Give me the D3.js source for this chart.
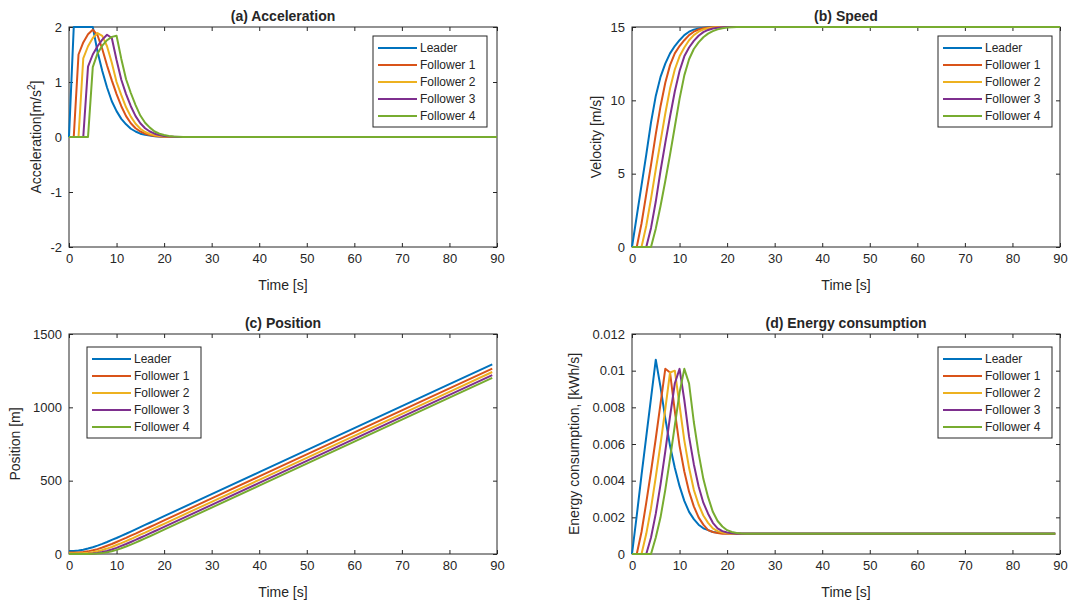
<!DOCTYPE html>
<html>
<head>
<meta charset="utf-8">
<script src="https://d3js.org/d3.v7.min.js"></script>
<style>
body { margin: 0; background: #fff; }
text { font-family: "Liberation Sans", Arial, sans-serif; fill: #262626; }
.tick text { font-size: 13px; }
.tick line { stroke: #262626; }
.domain { stroke: none; }
</style>
</head>
<body>
<div id="chart"></div>
<script>
// series names and colours (MATLAB default order)
var seriesNames = ["Leader", "Follower 1", "Follower 2", "Follower 3", "Follower 4"];
var colors = ["#0072BD", "#D95319", "#EDB120", "#7E2F8E", "#77AC30"];

// time stamps: one per second during the transient, then the end of the run
var timeAcc = [0,1,2,3,4,5,6,7,8,9,10,11,12,13,14,15,16,17,18,19,20,21,22,23,24,25,90];
var timeEnergy = [0,1,2,3,4,5,6,7,8,9,10,11,12,13,14,15,16,17,18,19,20,21,22,23,24,25,89];
var timePos = [0,1,2,3,4,5,6,7,8,9,10,11,12,13,14,15,16,17,18,19,20,30,40,50,60,70,80,89];

// (a) acceleration [m/s^2]
var accLeader = [0,2,2,2,2,2,1.55,1.2,0.9,0.65,0.47,0.33,0.23,0.15,0.1,0.06,0.04,0.025,0.015,0.01,0.005,0,0,0,0,0,0];
var accF1 = [0,0,1.5,1.72,1.87,1.95,1.85,1.6,1.3,1.03,0.78,0.56,0.38,0.25,0.16,0.1,0.06,0.035,0.02,0.01,0.005,0,0,0,0,0,0];
var accF2 = [0,0,0,1.43,1.65,1.8,1.89,1.84,1.65,1.35,1.0,0.76,0.54,0.37,0.24,0.15,0.09,0.055,0.03,0.018,0.01,0.005,0,0,0,0,0];
var accF3 = [0,0,0,0,1.28,1.5,1.65,1.77,1.86,1.8,1.4,1.04,0.78,0.56,0.38,0.25,0.16,0.1,0.06,0.035,0.02,0.01,0.005,0,0,0,0];
var accF4 = [0,0,0,0,0,1.27,1.52,1.66,1.76,1.82,1.84,1.42,1.05,0.8,0.58,0.39,0.26,0.17,0.1,0.06,0.035,0.02,0.01,0.005,0,0,0];

// (b) speed [m/s]
var speedLeader = [0,2.1,4.2,6.3,8.5,10.3,11.6,12.5,13.2,13.7,14.1,14.45,14.68,14.82,14.9,14.95,14.98,15,15,15,15,15,15,15,15,15,15];
var speedF1 = [0,0,1.6,3.6,5.6,7.7,9.6,11.2,12.4,13.2,13.7,14.1,14.45,14.68,14.83,14.92,14.96,14.98,15,15,15,15,15,15,15,15,15];
var speedF2 = [0,0,0,1.45,3.3,5.3,7.2,9.1,10.8,12.1,13.0,13.6,14.1,14.45,14.68,14.83,14.92,14.96,14.98,15,15,15,15,15,15,15,15];
var speedF3 = [0,0,0,0,1.3,3.1,5.2,7.1,8.9,10.6,12.0,13.0,13.6,14.05,14.4,14.65,14.8,14.9,14.95,14.98,15,15,15,15,15,15,15];
var speedF4 = [0,0,0,0,0,1.25,2.8,4.5,6.3,8.2,10.1,11.7,12.8,13.5,13.95,14.3,14.55,14.72,14.84,14.92,14.96,14.98,15,15,15,15,15];

// (c) position [m]
var posLeader = [20,21,24,29,37,46,57,69,82,96,109,124,138,153,168,183,198,213,228,243,258,408,558,708,858,1008,1158,1293];
var posF1 = [10,10,11,13,18,25,33,44,56,68,82,96,110,125,139,154,169,184,199,214,229,379,529,679,829,979,1129,1264];
var posF2 = [5,5,5,6,8,12,19,27,37,48,61,74,88,102,117,132,146,161,176,191,206,356,506,656,806,956,1106,1241];
var posF3 = [0,0,0,0,1,3,7,13,21,31,42,55,68,82,96,111,125,140,155,170,185,335,485,635,785,935,1085,1220];
var posF4 = [0,0,0,0,0,1,3,6,12,19,28,39,51,64,78,92,107,121,136,151,166,316,466,616,766,916,1066,1201];

// (d) energy consumption [kWh/s]
var enLeader = [0,0.0021,0.0043,0.0064,0.0085,0.0106,0.0091,0.0074,0.0059,0.0047,0.0037,0.0029,0.0023,0.0019,0.0016,0.0014,0.0013,0.0012,0.00117,0.00115,0.00113,0.00112,0.00112,0.00112,0.00112,0.00112,0.00112];
var enF1 = [0,0,0.0012,0.0028,0.0045,0.0063,0.0082,0.0101,0.0099,0.0078,0.0059,0.0045,0.0034,0.0026,0.002,0.0016,0.0013,0.0012,0.00114,0.00111,0.0011,0.0011,0.0011,0.0011,0.0011,0.0011,0.0011];
var enF2 = [0,0,0,0.0011,0.0025,0.0042,0.006,0.0079,0.0099,0.01,0.0081,0.0062,0.0047,0.0035,0.0027,0.0021,0.0017,0.0014,0.00125,0.00117,0.00113,0.0011,0.0011,0.0011,0.0011,0.0011,0.0011];
var enF3 = [0,0,0,0,0.0009,0.0022,0.0038,0.0056,0.0075,0.0093,0.0101,0.0084,0.0064,0.0049,0.0037,0.0028,0.0022,0.0017,0.0014,0.00125,0.00117,0.00113,0.0011,0.0011,0.0011,0.0011,0.0011];
var enF4 = [0,0,0,0,0,0.0009,0.002,0.0035,0.0052,0.007,0.0088,0.0101,0.0093,0.0072,0.0055,0.0041,0.0031,0.0023,0.0018,0.0015,0.0013,0.0012,0.00115,0.00112,0.0011,0.0011,0.0011];

// tick values
var xTicks = [0,10,20,30,40,50,60,70,80,90];
var accTicks = [-2,-1,0,1,2];
var speedTicks = [0,5,10,15];
var posTicks = [0,500,1000,1500];
var energyTicks = [0,0.002,0.004,0.006,0.008,0.01,0.012];

var svg = d3.select("#chart")
  .append("svg")
    .attr("width", 1074)
    .attr("height", 604);

// plain hyphen minus, like matlab
var plainFmt = function(d) { return String(+d.toFixed(4)); };

function drawPanel(p) {
  var g = svg.append("g")
    .attr("transform", "translate(" + p.left + "," + p.top + ")");

  var x = d3.scaleLinear().domain([0, 90]).range([0, p.w]);
  var y = d3.scaleLinear().domain(p.yDomain).range([p.h, 0]);

  // box
  g.append("rect")
    .attr("width", p.w)
    .attr("height", p.h)
    .attr("fill", "none")
    .attr("stroke", "#262626")
    .attr("stroke-width", 1);

  // axes, ticks pointing inward
  g.append("g")
    .attr("transform", "translate(0," + p.h + ")")
    .call(d3.axisBottom(x).tickValues(xTicks).tickSize(-4).tickSizeOuter(0).tickPadding(7).tickFormat(plainFmt));
  g.append("g")
    .call(d3.axisTop(x).tickValues(xTicks).tickSize(-4).tickSizeOuter(0).tickFormat(""));
  g.append("g")
    .call(d3.axisLeft(y).tickValues(p.yTicks).tickSize(-4).tickSizeOuter(0).tickPadding(7).tickFormat(plainFmt));
  g.append("g")
    .attr("transform", "translate(" + p.w + ",0)")
    .call(d3.axisRight(y).tickValues(p.yTicks).tickSize(-4).tickSizeOuter(0).tickFormat(""));

  var line = d3.line()
    .x(function(d) { return x(d[0]); })
    .y(function(d) { return y(d[1]); });

  p.series.forEach(function(vals, i) {
    g.append("path")
      .datum(p.times.map(function(t, k) { return [t, vals[k]]; }))
      .attr("fill", "none")
      .attr("stroke", colors[i])
      .attr("stroke-width", 2)
      .attr("stroke-linejoin", "round")
      .attr("d", line);
  });

  // title
  g.append("text")
    .attr("x", p.w / 2)
    .attr("y", -6)
    .attr("text-anchor", "middle")
    .style("font-size", "14px")
    .style("font-weight", "bold")
    .text(p.title);

  // x label
  g.append("text")
    .attr("x", p.w / 2)
    .attr("y", p.h + 43)
    .attr("text-anchor", "middle")
    .style("font-size", "14px")
    .text("Time [s]");

  // y label
  var yl = g.append("text")
    .attr("transform", "translate(" + p.ylabelX + "," + (p.h / 2) + ") rotate(-90)")
    .attr("text-anchor", "middle")
    .style("font-size", "14px");
  if (p.ylabelSup) {
    yl.append("tspan").text(p.ylabel);
    yl.append("tspan").attr("dy", -6).style("font-size", "10px").text(p.ylabelSup);
    yl.append("tspan").attr("dy", 6).text("]");
  } else {
    yl.text(p.ylabel);
  }

  // legend
  var lg = svg.append("g")
    .attr("transform", "translate(" + p.legend[0] + "," + p.legend[1] + ")");
  lg.append("rect")
    .attr("width", 114)
    .attr("height", 91)
    .attr("fill", "#fff")
    .attr("stroke", "#262626")
    .attr("stroke-width", 1);
  seriesNames.forEach(function(name, i) {
    var ry = 12 + i * 17;
    lg.append("line")
      .attr("x1", 5).attr("x2", 44)
      .attr("y1", ry).attr("y2", ry)
      .attr("stroke", colors[i])
      .attr("stroke-width", 2);
    lg.append("text")
      .attr("x", 47)
      .attr("y", ry + 4)
      .style("font-size", "12px")
      .text(name);
  });
}

drawPanel({
  left: 69, top: 27, w: 428, h: 220,
  yDomain: [-2, 2], yTicks: accTicks,
  times: timeAcc,
  series: [accLeader, accF1, accF2, accF3, accF4],
  title: "(a) Acceleration",
  ylabel: "Acceleration[m/s", ylabelSup: "2", ylabelX: -28,
  legend: [373, 36]
});

drawPanel({
  left: 632, top: 27, w: 428, h: 220,
  yDomain: [0, 15], yTicks: speedTicks,
  times: timeAcc,
  series: [speedLeader, speedF1, speedF2, speedF3, speedF4],
  title: "(b) Speed",
  ylabel: "Velocity [m/s]", ylabelX: -31,
  legend: [938, 36]
});

drawPanel({
  left: 69, top: 334, w: 428, h: 220,
  yDomain: [0, 1500], yTicks: posTicks,
  times: timePos,
  series: [posLeader, posF1, posF2, posF3, posF4],
  title: "(c) Position",
  ylabel: "Position [m]", ylabelX: -49,
  legend: [87, 347]
});

drawPanel({
  left: 632, top: 334, w: 428, h: 220,
  yDomain: [0, 0.012], yTicks: energyTicks,
  times: timeEnergy,
  series: [enLeader, enF1, enF2, enF3, enF4],
  title: "(d) Energy consumption",
  ylabel: "Energy consumption, [kWh/s]", ylabelX: -53,
  legend: [938, 347]
});
</script>
</body>
</html>
